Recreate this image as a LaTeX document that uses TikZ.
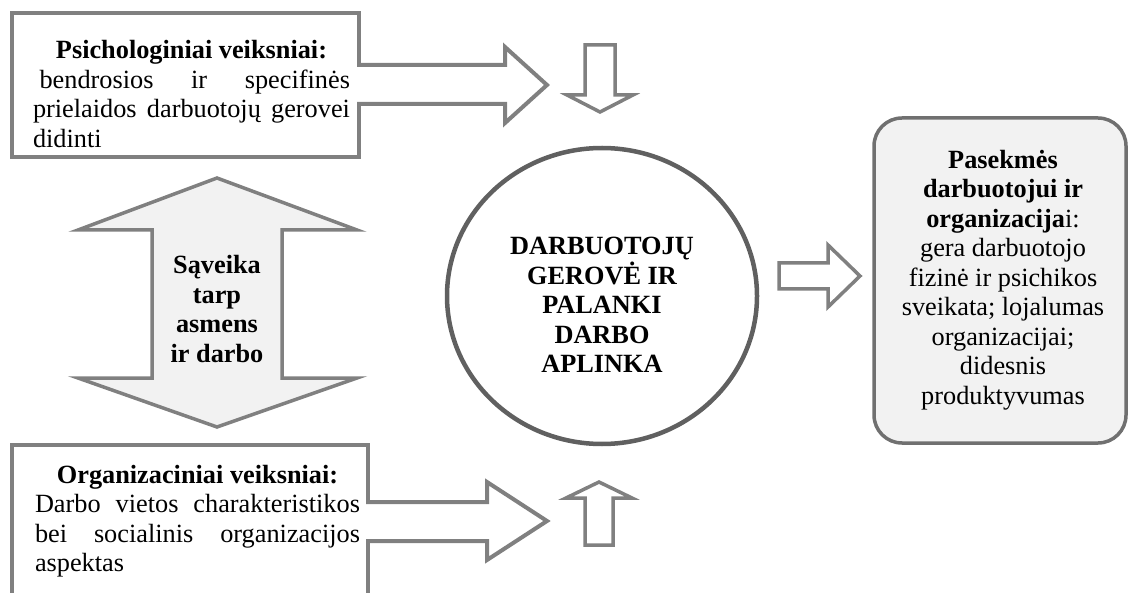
\documentclass[tikz,border=0pt]{standalone}
\usepackage{fontspec}
\setmainfont{Liberation Serif}
\hyphenpenalty=10000 \tolerance=9999 \setlength\parindent{0pt}
\definecolor{framegray}{HTML}{808080}
\definecolor{ringgray}{HTML}{606060}
\definecolor{panelgray}{HTML}{F2F2F2}
\tikzset{every node/.style={font=\fontsize{26.3}{29.5}\selectfont,inner sep=0pt},
  factorbox/.style={draw=framegray,line width=4.5pt},
  factortext/.style={align=justify},
  blockarrow/.style={draw=framegray,line width=4pt,line join=miter},
  smallarrow/.style={draw=framegray,line width=3.5pt,line join=miter,fill=white}}

\begin{document}
\begin{tikzpicture}[x=1pt,y=-1pt]
\useasboundingbox (0,0) rectangle (1129,593);\clip (0,0) rectangle (1129,593);
% pasekmes
\draw[fill=panelgray,draw=ringgray!90,line width=3.5pt,rounded corners=28pt] (874,118) rectangle (1126,443);
\node[align=center] (outcome) at (1003,280) {\textbf{Pasekmės}\\\textbf{darbuotojui ir}\\\textbf{organizacija}i:\\gera darbuotojo\\fizinė ir psichikos\\sveikata; lojalumas\\organizacijai;\\didesnis\\produktyvumas};
% gerove
\draw[ringgray,line width=4.5pt] (602,296) ellipse (155 and 148);
\node[align=center,font=\fontsize{26.3}{29.5}\selectfont\bfseries] (wellbeing) at (602,305) {DARBUOTOJŲ\\GEROVĖ IR\\PALANKI\\DARBO\\APLINKA};
% saveika
\draw[fill=panelgray,draw=framegray,line width=3.5pt,line join=miter] (217,178)--(357,230)--(282,230)--(282,378)--(357,378)--(217,427)--(78,378)--(152,378)--(152,230)--(78,230)--cycle;
\node[align=center,font=\fontsize{26.3}{29.5}\selectfont\bfseries] (interaction) at (217,309) {Sąveika\\tarp\\asmens\\ir darbo};
% psichologiniai
\draw[factorbox] (12,13) rectangle (359,157);
\fill[white] (354,65)--(505,65)--(505,47)--(547,85)--(505,123)--(505,104)--(354,104)--cycle;
\draw[blockarrow] (357,65)--(505,65)--(505,47)--(547,85)--(505,123)--(505,104)--(357,104);
\node[factortext,text width=317pt] (psych) at (191.5,94) {{\centering\bfseries Psichologiniai veiksniai:\par}\hspace*{.25em}bendrosios ir specifinės prielaidos darbuotojų gerovei didinti};
% organizaciniai
\draw[factorbox] (12,445) rectangle (368,610);
\fill[white] (363,502)--(487,502)--(487,482)--(547,521)--(487,560)--(487,541)--(363,541)--cycle;
\draw[blockarrow] (366,502)--(487,502)--(487,482)--(547,521)--(487,560)--(487,541)--(366,541);
\node[factortext,text width=325pt] (org) at (197.5,521) {{\centering\bfseries Organizaciniai veiksniai:\par}Darbo vietos charakteristikos bei socialinis organizacijos aspektas};
% small arrows
\draw[smallarrow] (585,45)--(615,45)--(615,95)--(633,95)--(600,112)--(567,95)--(585,95)--cycle;
\draw[smallarrow] (585,545)--(613,545)--(613,498)--(632,498)--(599,482)--(566,498)--(585,498)--cycle;
\draw[smallarrow] (779,263)--(828,263)--(828,245)--(860,276)--(828,307)--(828,289)--(779,289)--cycle;
\end{tikzpicture}
\end{document}
